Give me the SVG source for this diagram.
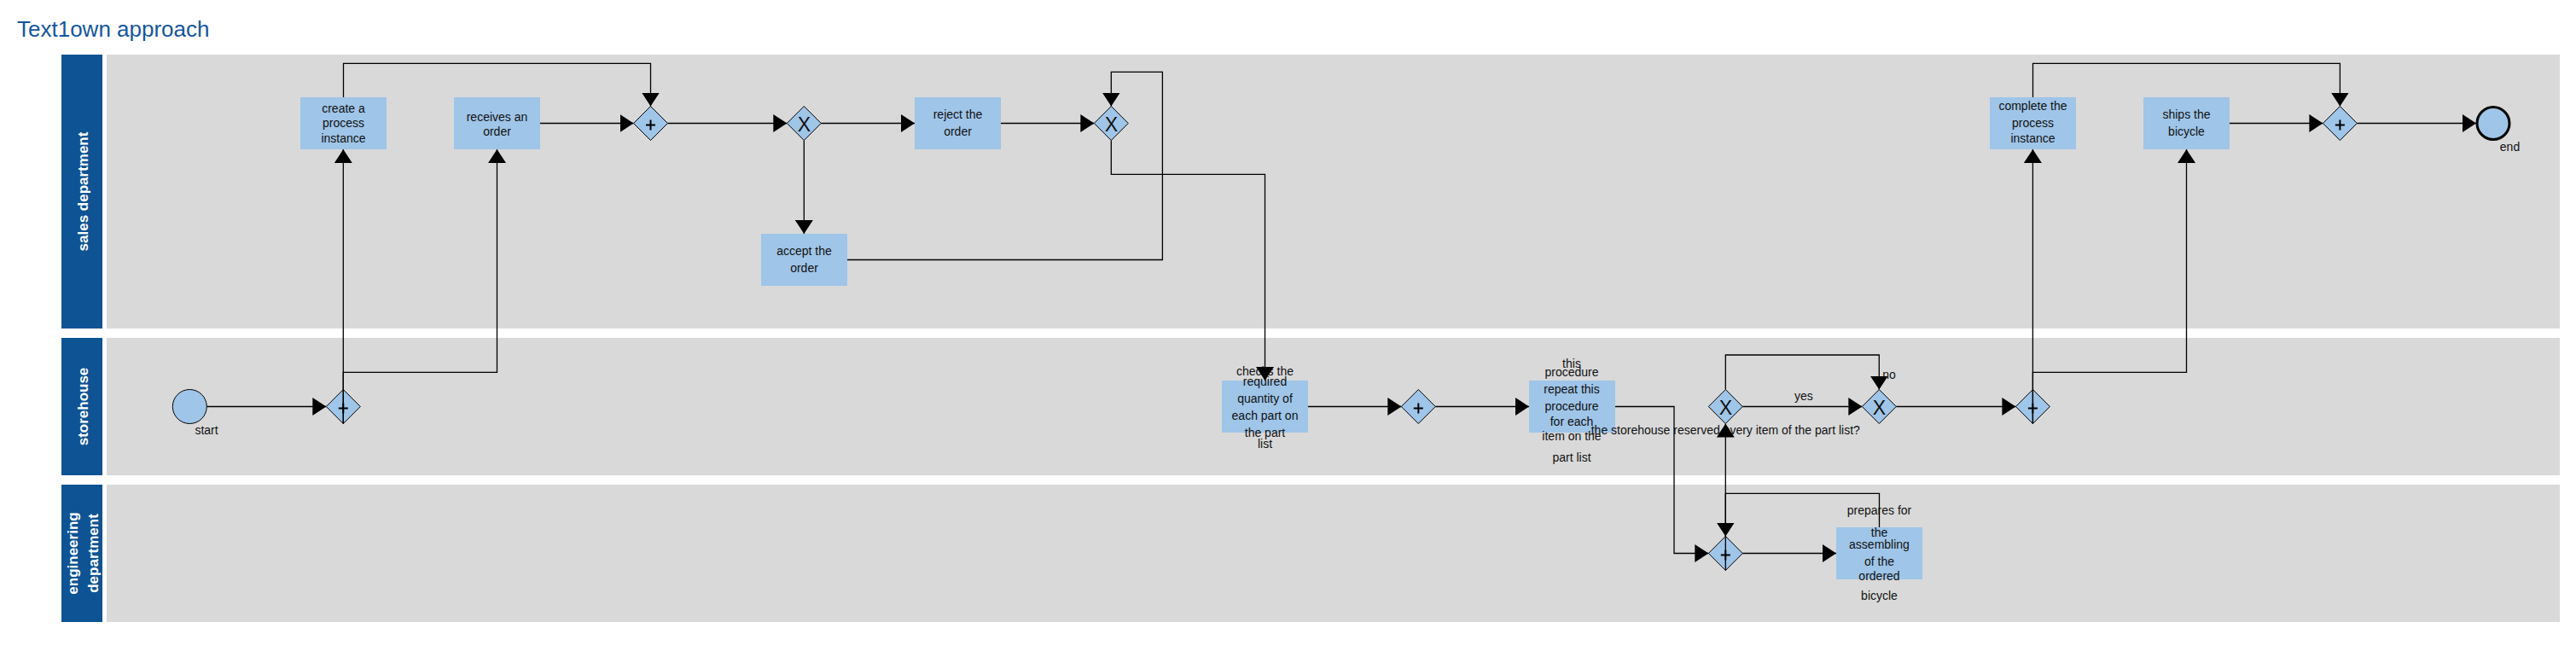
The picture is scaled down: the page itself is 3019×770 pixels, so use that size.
<svg xmlns="http://www.w3.org/2000/svg" xmlns:xlink="http://www.w3.org/1999/xlink" width="3019" height="770" viewBox="0 0 3019 770">
<style>
.lane{fill:#d9d9d9}
.hdr{fill:#0e5394}
.hdrt{fill:#ffffff;font-family:"Liberation Sans",Arial,sans-serif;font-weight:bold;font-size:17px;text-anchor:middle}
.task{fill:#9fc5e8}
.gw{fill:#9fc5e8;stroke:#000;stroke-width:1}
.sign{fill:none;stroke:#000;stroke-width:2}
.xs{font-family:"Liberation Sans",Arial,sans-serif;font-size:23px;fill:#111;text-anchor:middle}
.t{font-family:"Liberation Sans",Arial,sans-serif;font-size:14px;fill:#111;text-anchor:middle}
.con{fill:none;stroke:#000;stroke-width:1.3;marker-end:url(#ah)}
</style>
<defs>
<marker id="ah" markerUnits="userSpaceOnUse" markerWidth="16" markerHeight="21" refX="16" refY="10.5" orient="auto" viewBox="0 0 16 21"><path d="M0,0L16,10.5L0,21z" fill="#000"/></marker>
<polygon id="dia" points="0,-20 20,0 0,20 -20,0"/>
<path id="plus" d="M-5.5,2H5.5M0,-4V8"/>
</defs>
<rect width="3019" height="770" fill="#ffffff"/>
<text x="20" y="43" style="font-family:'Liberation Sans',Arial,sans-serif;font-size:26px;fill:#14569c">Text1own approach</text>

<g id="lanes">
<rect class="hdr" x="72" y="64" width="48" height="321"/>
<rect class="lane" x="125" y="64" width="2875" height="321"/>
<text class="hdrt" transform="translate(103,224.5) rotate(-90)">sales department</text>
<rect class="hdr" x="72" y="396" width="48" height="161"/>
<rect class="lane" x="125" y="396" width="2875" height="161"/>
<text class="hdrt" transform="translate(103,476.5) rotate(-90)">storehouse</text>
<rect class="hdr" x="72" y="568" width="48" height="161"/>
<rect class="lane" x="125" y="568" width="2875" height="161"/>
<text class="hdrt" transform="translate(91,648.5) rotate(-90)">engineering</text>
<text class="hdrt" transform="translate(114.5,648.5) rotate(-90)">department</text>
</g>

<g id="n_start"><circle cx="222.3" cy="476.5" r="20" fill="#9fc5e8" stroke="#000" stroke-width="1"/><text class="t" x="242" y="509">start</text></g>
<g id="n_plus0" transform="translate(402.3,476.5)"><use xlink:href="#dia" class="gw"/><use xlink:href="#plus" class="sign"/></g>
<g id="n_create"><rect class="task" x="352" y="114" width="101" height="61"/><text class="t" x="402.5" y="132">create a</text><text class="t" x="402.5" y="149">process</text><text class="t" x="402.5" y="167">instance</text></g>
<g id="n_receives"><rect class="task" x="532" y="114" width="101" height="61"/><text class="t" x="582.5" y="142">receives an</text><text class="t" x="582.5" y="159">order</text></g>
<g id="n_plus1" transform="translate(762.5,144.5)"><use xlink:href="#dia" class="gw"/><use xlink:href="#plus" class="sign"/></g>
<g id="n_x1" transform="translate(942.3,144.5)"><use xlink:href="#dia" class="gw"/><text class="xs" x="0" y="9">X</text></g>
<g id="n_accept"><rect class="task" x="892" y="274" width="101" height="61"/><text class="t" x="942.5" y="299">accept the</text><text class="t" x="942.5" y="319">order</text></g>
<g id="n_reject"><rect class="task" x="1072" y="114" width="101" height="61"/><text class="t" x="1122.5" y="139">reject the</text><text class="t" x="1122.5" y="159">order</text></g>
<g id="n_x2" transform="translate(1302.3,144.5)"><use xlink:href="#dia" class="gw"/><text class="xs" x="0" y="9">X</text></g>
<g id="n_checks"><rect class="task" x="1432" y="446" width="101" height="61"/><text class="t" x="1482.5" y="440">checks the</text><text class="t" x="1482.5" y="451.5">required</text><text class="t" x="1482.5" y="471.5">quantity of</text><text class="t" x="1482.5" y="491.5">each part on</text><text class="t" x="1482.5" y="511.5">the part</text><text class="t" x="1482.5" y="525">list</text></g>
<g id="n_plus_s" transform="translate(1662.3,476.5)"><use xlink:href="#dia" class="gw"/><use xlink:href="#plus" class="sign"/></g>
<g id="n_repeat"><rect class="task" x="1792" y="446" width="101" height="61"/><text class="t" x="1842" y="430.5">this</text><text class="t" x="1842" y="441">procedure</text><text class="t" x="1842" y="461">repeat this</text><text class="t" x="1842" y="481">procedure</text><text class="t" x="1842" y="499">for each</text><text class="t" x="1842" y="516">item on the</text><text class="t" x="1842" y="541">part list</text></g>
<g id="n_xA" transform="translate(2022.3,476.5)"><use xlink:href="#dia" class="gw"/><text class="xs" x="0" y="9">X</text><text class="t" x="0" y="32.5">the storehouse reserved every item of the part list?</text></g>
<g id="n_xB" transform="translate(2202.3,476.5)"><use xlink:href="#dia" class="gw"/><text class="xs" x="0" y="9">X</text></g>
<g id="n_plus_e" transform="translate(2022.3,648.5)"><use xlink:href="#dia" class="gw"/><use xlink:href="#plus" class="sign"/></g>
<g id="n_prepares"><rect class="task" x="2152" y="618" width="101" height="61"/><text class="t" x="2202.5" y="603">prepares for</text><text class="t" x="2202.5" y="629">the</text><text class="t" x="2202.5" y="643">assembling</text><text class="t" x="2202.5" y="662.5">of the</text><text class="t" x="2202.5" y="680">ordered</text><text class="t" x="2202.5" y="703">bicycle</text></g>
<g id="n_plus2" transform="translate(2382.4,476.5)"><use xlink:href="#dia" class="gw"/><use xlink:href="#plus" class="sign"/></g>
<g id="n_complete"><rect class="task" x="2332" y="114" width="101" height="61"/><text class="t" x="2382.5" y="129">complete the</text><text class="t" x="2382.5" y="149">process</text><text class="t" x="2382.5" y="167">instance</text></g>
<g id="n_ships"><rect class="task" x="2512" y="114" width="101" height="61"/><text class="t" x="2562.5" y="139">ships the</text><text class="t" x="2562.5" y="159">bicycle</text></g>
<g id="n_plus3" transform="translate(2742.4,144.5)"><use xlink:href="#dia" class="gw"/><use xlink:href="#plus" class="sign"/></g>
<g id="n_end"><circle cx="2922" cy="144.5" r="19" fill="#9fc5e8" stroke="#000" stroke-width="3"/><text class="t" x="2941.5" y="177">end</text></g>

<g id="connectors">
<text class="t" x="2113.8" y="469">yes</text>
<text class="t" x="2214" y="444">no</text>
<path class="con" d="M242.4,476.5H382.3"/>
<path class="con" d="M402.3,496.5V175"/>
<path class="con" d="M402.3,496.5V436.3H582.5V175"/>
<path class="con" d="M402.5,114V74.3H762.5V124.5"/>
<path class="con" d="M633,144.5H742.5"/>
<path class="con" d="M782.5,144.5H922.3"/>
<path class="con" d="M942.3,164.5V274"/>
<path class="con" d="M962.3,144.5H1072"/>
<path class="con" d="M1173,144.5H1282.3"/>
<path class="con" d="M993,304.5H1362.4V84.3H1302.3V124.5"/>
<path class="con" d="M1302.3,164.5V204.3H1482.5V446"/>
<path class="con" d="M1533,476.5H1642.3"/>
<path class="con" d="M1682.3,476.5H1792"/>
<path class="con" d="M1893,476.5H1962V648.5H2002.3"/>
<path class="con" d="M2042.3,648.5H2152"/>
<path class="con" d="M2202.5,618V578.3H2022.3V628.5"/>
<path class="con" d="M2022.3,668.5V496.5"/>
<path class="con" d="M2042.3,476.5H2182.3"/>
<path class="con" d="M2022.3,456.5V416H2202.3V456.5"/>
<path class="con" d="M2222.3,476.5H2362.4"/>
<path class="con" d="M2382.4,496.5V175"/>
<path class="con" d="M2382.4,496.5V436.3H2562.5V175"/>
<path class="con" d="M2382.5,114V74.3H2742.4V124.5"/>
<path class="con" d="M2613,144.5H2722.4"/>
<path class="con" d="M2762.4,144.5H2902"/>
</g>
</svg>
